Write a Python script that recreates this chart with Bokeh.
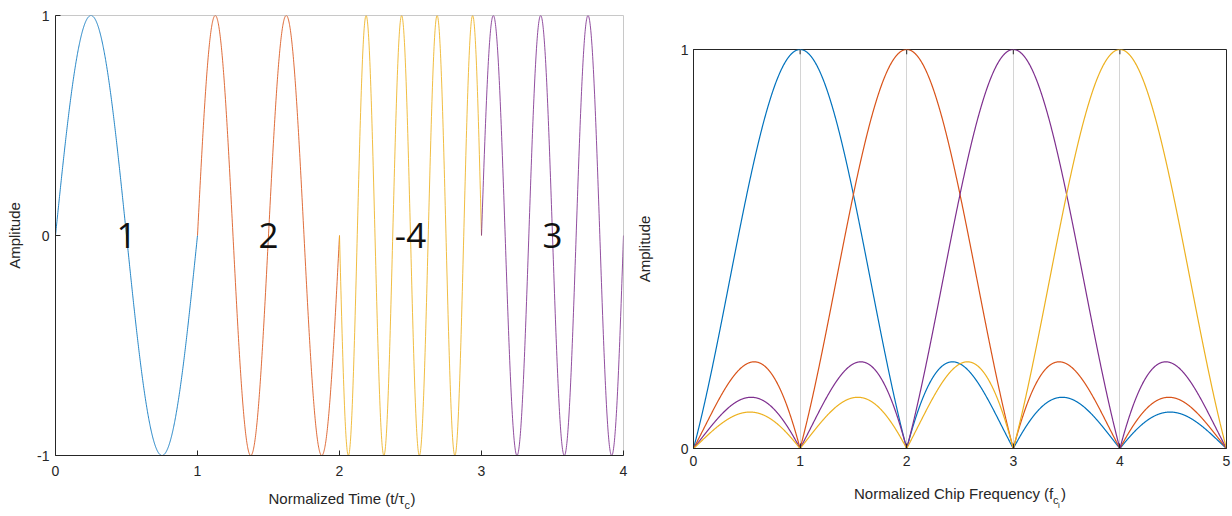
import numpy as np
from bokeh.plotting import figure
from bokeh.models import Label, FixedTicker, Range1d, ColumnDataSource, Spacer
from bokeh.layouts import row, column
from bokeh.embed import file_html
from bokeh.resources import INLINE
from bokeh.core.properties import value

# ---- data ----
chip_values = [1, 2, -4, 3]            # chip frequency codes (sign = phase)
chip_starts = [0, 1, 2, 3]
chip_colors = ["#0072BD", "#D95319", "#EDB120", "#7E2F8E"]
chip_labels = ["1", "2", "-4", "3"]
time_ticks = [0, 1, 2, 3, 4]
amp_ticks = [-1, 0, 1]

spec_centers = [1, 2, 3, 4]
spec_colors = ["#0072BD", "#D95319", "#7E2F8E", "#EDB120"]
freq_ticks = [0, 1, 2, 3, 4, 5]
spec_amp_ticks = [0, 1]

FONT = "Liberation Sans"
AX = "#262626"

def style_axis(ax):
    ax.major_tick_in = 5
    ax.major_tick_out = 0
    ax.minor_tick_in = 0
    ax.minor_tick_out = 0
    ax.axis_line_color = AX
    ax.major_tick_line_color = AX
    ax.major_label_text_font = FONT
    ax.major_label_text_font_size = "14px"
    ax.major_label_text_color = AX
    ax.axis_label_text_font = FONT
    ax.axis_label_text_font_size = "15px"
    ax.axis_label_text_font_style = "normal"
    ax.axis_label_text_color = AX

def style_axes(p):
    style_axis(p.xaxis[0])
    style_axis(p.yaxis[0])
    p.xgrid.visible = False
    p.ygrid.visible = False

def strip(x_range, width, left, right, height):
    t = figure(width=width, height=height, x_range=x_range, y_range=Range1d(0, height),
               x_axis_type=None, y_axis_type=None, output_backend="svg", toolbar_location=None,
               min_border_left=left, min_border_right=right, min_border_top=0, min_border_bottom=0)
    t.outline_line_color = None
    t.xgrid.visible = False
    t.ygrid.visible = False
    return t

def lab(t, x, y, dx, dy, text, size):
    t.add_layout(Label(x=x, y=y, x_offset=dx, y_offset=dy, text=text, text_font=FONT,
                       text_font_size=size, text_color=AX, text_align="left",
                       text_baseline="alphabetic"))

# ---- left: time waveform ----
W1 = 632
p1 = figure(width=W1, height=484, x_range=Range1d(0, 4), y_range=Range1d(-1, 1),
            output_backend="svg", toolbar_location=None,
            min_border_left=55, min_border_right=9, min_border_top=15, min_border_bottom=29)
style_axes(p1)
p1.outline_line_color = "#c8c8c8"
p1.xaxis.ticker = FixedTicker(ticks=time_ticks)
p1.yaxis.ticker = FixedTicker(ticks=amp_ticks)
p1.yaxis.major_label_overrides = {-1: "-1"}
p1.yaxis.axis_label = "Amplitude"
p1.yaxis.major_label_standoff = 6
p1.yaxis.axis_label_standoff = 11
p1.xaxis.major_label_standoff = 10

for c, t0, col in zip(chip_values, chip_starts, chip_colors):
    t = np.linspace(t0, t0 + 1, 600)
    y = np.sin(2 * np.pi * c * (t - t0))
    p1.line(t, y, line_color=col, line_width=1.0, line_alpha=0.85)

txt_src = ColumnDataSource(dict(x=[s + 0.5 for s in chip_starts], y=[0] * 4, text=chip_labels))
p1.text(x="x", y="y", text="text", source=txt_src, text_font=value("Open Sans"),
        text_font_size="35px", text_align="center", text_baseline="middle", text_color="#111111")

t1 = strip(p1.x_range, W1, 55, 9, 32)
lab(t1, 2, 18, -71, 0, "Normalized Time (t/τ", "15px")
lab(t1, 2, 18, 65, -6, "c", "11px")
lab(t1, 2, 18, 71, 0, ")", "15px")

# ---- right: spectra ----
W2 = 1232 - W1
p2 = figure(width=W2, height=450, x_range=Range1d(0, 5), y_range=Range1d(0, 1),
            output_backend="svg", toolbar_location=None,
            min_border_left=61, min_border_right=6, min_border_top=15, min_border_bottom=36)
style_axes(p2)
p2.outline_line_color = AX
p2.xaxis.ticker = FixedTicker(ticks=freq_ticks)
p2.yaxis.ticker = FixedTicker(ticks=spec_amp_ticks)
p2.yaxis.axis_label = "Amplitude"
p2.yaxis.major_label_standoff = 5
p2.yaxis.axis_label_standoff = 25
p2.xaxis.major_label_standoff = 7
p2.xgrid.visible = True
p2.xgrid.grid_line_color = "#d4d4d4"
p2.xgrid.ticker = FixedTicker(ticks=freq_ticks)

# top box ticks (MATLAB style)
p2.segment(x0=freq_ticks, x1=freq_ticks, y0=[1] * len(freq_ticks), y1=[0.988] * len(freq_ticks),
           line_color=AX, line_width=1)

f = np.linspace(0, 5, 2001)
for c, col in zip(spec_centers, spec_colors):
    p2.line(f, np.abs(np.sinc(f - c)), line_color=col, line_width=1.2)

t2 = strip(p2.x_range, W2, 61, 6, 32)
lab(t2, 2.5, 23, -106, 0, "Normalized Chip Frequency (f", "15px")
lab(t2, 2.5, 23, 93, -6, "c", "11px")
lab(t2, 2.5, 23, 98, -12, "i", "8px")
lab(t2, 2.5, 23, 101, 0, ")", "15px")

layout = row(column(p1, t1, spacing=0),
             column(Spacer(width=W2, height=34), p2, t2, spacing=0), spacing=0)
open("out.html", "w").write(file_html(layout, INLINE))
